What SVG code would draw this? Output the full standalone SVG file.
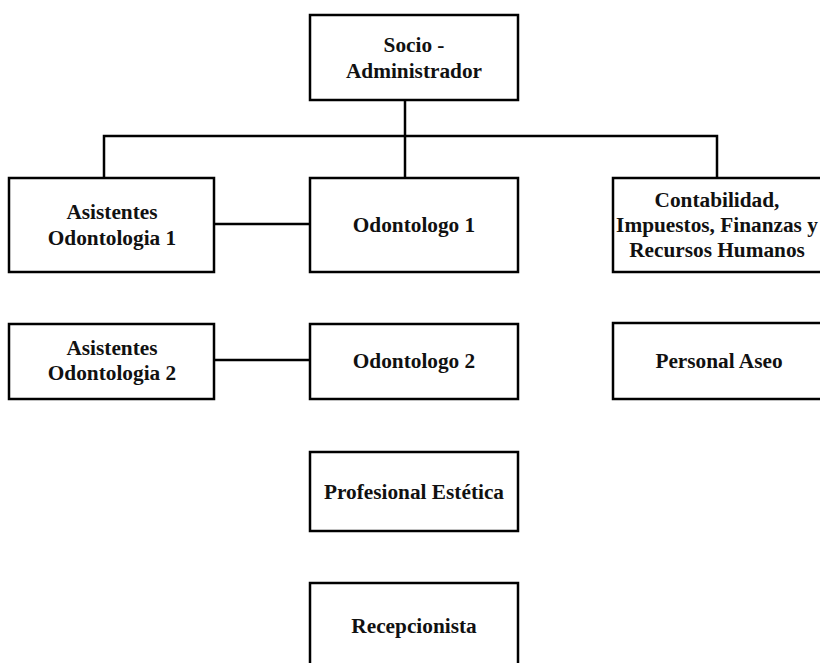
<svg xmlns="http://www.w3.org/2000/svg" width="820" height="663" viewBox="0 0 820 663">
<style>
.box{fill:#fff;stroke:#000;stroke-width:2.5}
.t{font-family:"Liberation Serif","Times New Roman",serif;font-weight:bold;font-size:21.3px;fill:#111;text-anchor:middle}
.c{stroke:#000;stroke-width:2.5;fill:none}
</style>
<rect width="820" height="663" fill="#fff"/>
<g id="connectors">
<path class="c" d="M405 100 V178"/>
<path class="c" d="M104 178 V136 H717 V178"/>
<path class="c" d="M214 224 H310"/>
<path class="c" d="M214 360 H310"/>
</g>
<g id="socio"><rect class="box" x="310" y="15" width="208" height="85"/><text class="t" x="414" y="52">Socio -</text><text class="t" x="414" y="78">Administrador</text></g>
<g id="asistentes1"><rect class="box" x="9" y="178" width="205" height="94"/><text class="t" x="112" y="219">Asistentes</text><text class="t" x="112" y="245">Odontologia 1</text></g>
<g id="odontologo1"><rect class="box" x="310" y="178" width="208" height="94"/><text class="t" x="414" y="232">Odontologo 1</text></g>
<g id="contabilidad"><rect class="box" x="613" y="178" width="214" height="94"/><text class="t" x="717" y="207">Contabilidad,</text><text class="t" x="717" y="232">Impuestos, Finanzas y</text><text class="t" x="717" y="257">Recursos Humanos</text></g>
<g id="asistentes2"><rect class="box" x="9" y="324" width="205" height="75"/><text class="t" x="112" y="355">Asistentes</text><text class="t" x="112" y="380">Odontologia 2</text></g>
<g id="odontologo2"><rect class="box" x="310" y="324" width="208" height="75"/><text class="t" x="414" y="368">Odontologo 2</text></g>
<g id="aseo"><rect class="box" x="613" y="323" width="214" height="76"/><text class="t" x="719" y="368">Personal Aseo</text></g>
<g id="estetica"><rect class="box" x="310" y="452" width="208" height="79"/><text class="t" x="414" y="499">Profesional Estética</text></g>
<g id="recepcionista"><rect class="box" x="310" y="583" width="208" height="90"/><text class="t" x="414" y="633">Recepcionista</text></g>
</svg>
